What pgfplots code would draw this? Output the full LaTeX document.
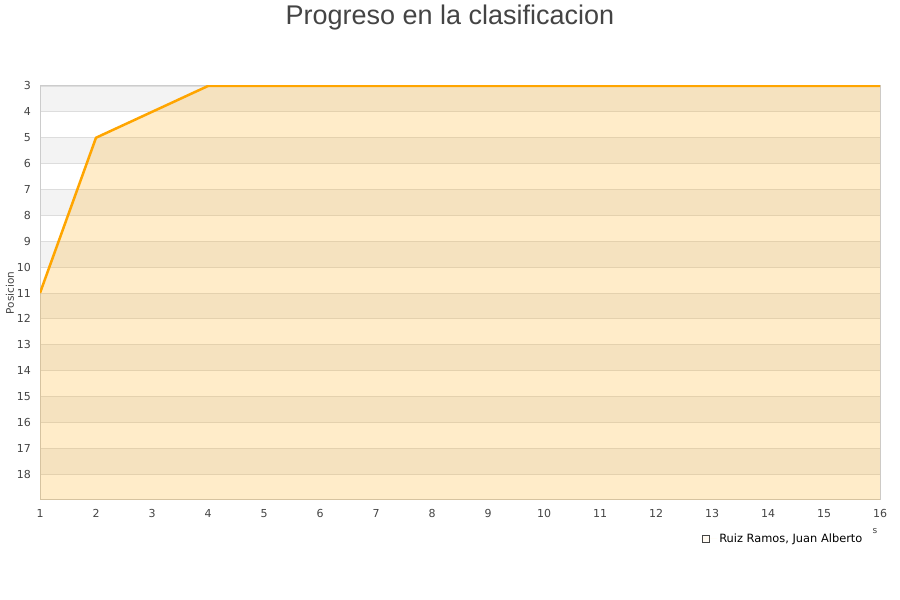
\documentclass[border=0pt]{standalone}
\usepackage{pgfplots}
\pgfplotsset{compat=1.18}
\usepackage{fontspec}
\setmainfont{DejaVu Sans}
\newfontfamily\titlefont{Liberation Sans}
\definecolor{bandgray}{HTML}{F3F3F3}
\definecolor{gridc}{HTML}{DDDDDD}
\definecolor{axc}{HTML}{CCCCCC}
\definecolor{txt}{HTML}{444444}
\definecolor{ora}{HTML}{FFA500}
\definecolor{legfill}{HTML}{FDE9C4}
\begin{document}
\begin{tikzpicture}
\begin{axis}[
  set layers,
  scale only axis,
  width=840bp, height=414bp,
  at={(40bp,100bp)}, anchor=south west,
  xmin=1, xmax=16, ymin=3, ymax=19,
  y dir=reverse,
  xtick={1,...,16}, ytick={3,...,18},
  major tick length=0pt,
  ymajorgrids,
  grid style={gridc, line width=0.8bp},
  axis line style={axc, line width=1bp},
  /pgf/number format/assume math mode=true,
  tick label style={font=\fontsize{11bp}{13bp}\selectfont, text=txt},
  yticklabel style={inner sep=0pt, xshift=-9bp},
  xticklabel style={inner sep=0pt, yshift=-9bp},
  legend style={at={(0.787,-0.094)}, anchor=west, draw=none, fill=none, inner sep=0pt,
    font=\fontsize{11.4bp}{13bp}\selectfont, text=black},
  legend cell align=left,
]
\addplot[on layer=axis background, fill=bandgray, draw=none, forget plot] coordinates {(1,3) (16,3) (16,4) (1,4)} -- cycle;
\addplot[on layer=axis background, fill=bandgray, draw=none, forget plot] coordinates {(1,5) (16,5) (16,6) (1,6)} -- cycle;
\addplot[on layer=axis background, fill=bandgray, draw=none, forget plot] coordinates {(1,7) (16,7) (16,8) (1,8)} -- cycle;
\addplot[on layer=axis background, fill=bandgray, draw=none, forget plot] coordinates {(1,9) (16,9) (16,10) (1,10)} -- cycle;
\addplot[on layer=axis background, fill=bandgray, draw=none, forget plot] coordinates {(1,11) (16,11) (16,12) (1,12)} -- cycle;
\addplot[on layer=axis background, fill=bandgray, draw=none, forget plot] coordinates {(1,13) (16,13) (16,14) (1,14)} -- cycle;
\addplot[on layer=axis background, fill=bandgray, draw=none, forget plot] coordinates {(1,15) (16,15) (16,16) (1,16)} -- cycle;
\addplot[on layer=axis background, fill=bandgray, draw=none, forget plot] coordinates {(1,17) (16,17) (16,18) (1,18)} -- cycle;
\addplot[draw=none, fill=ora, fill opacity=0.21,
  legend image code/.code={\draw[fill=legfill, draw=txt, line width=0.6bp] (1bp,-3.5bp) rectangle (8bp,3.5bp); \path (0bp,0bp) -- (16bp,0bp);}]
  coordinates {(1,11) (2,5) (3,4) (4,3) (5,3) (6,3) (7,3) (8,3) (9,3) (10,3) (11,3) (12,3) (13,3) (14,3) (15,3) (16,3) (16,19) (1,19)} -- cycle;
\addlegendentry{Ruiz Ramos, Juan Alberto}
\addplot[ora, line width=2.5bp, line join=round, forget plot]
  coordinates {(1,11) (2,5) (3,4) (4,3) (5,3) (6,3) (7,3) (8,3) (9,3) (10,3) (11,3) (12,3) (13,3) (14,3) (15,3) (16,3)};
\end{axis}
\node[anchor=base, text=txt, font=\titlefont\fontsize{27bp}{30bp}\selectfont] at (450bp,575bp) {Progreso en la clasificacion};
\node[rotate=90, text=txt, font=\fontsize{10.5bp}{12bp}\selectfont] at (10bp,307bp) {Posicion};
\node[text=txt, font=\fontsize{9bp}{11bp}\selectfont] at (875bp,69bp) {s};
\path (0,0) rectangle (900bp,600bp);
\end{tikzpicture}
\end{document}
